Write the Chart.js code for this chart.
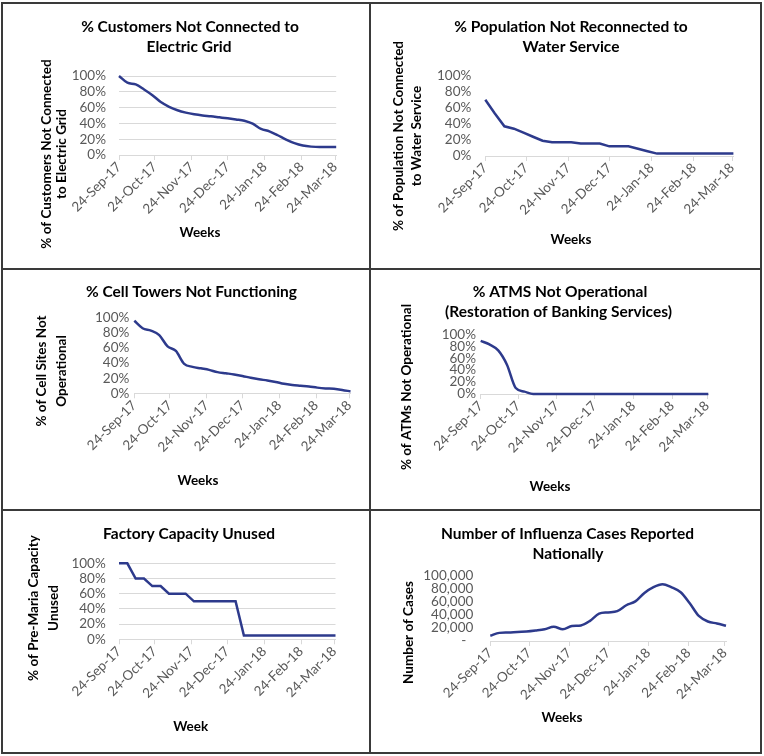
<!DOCTYPE html>
<html>
<head>
<meta charset="utf-8">
<script src="https://cdn.jsdelivr.net/npm/chart.js@4.4.0/dist/chart.umd.min.js"></script>
<style>
html,body{margin:0;padding:0;background:#fff;}
#wrap{position:relative;width:764px;height:756px;overflow:hidden;background:#fff;}
canvas{position:absolute;}
.ln{position:absolute;background:#3a3a3a;}
</style>
</head>
<body>
<div id="wrap">
<canvas id="c1"></canvas>
<canvas id="c2"></canvas>
<canvas id="c3"></canvas>
<canvas id="c4"></canvas>
<canvas id="c5"></canvas>
<canvas id="c6"></canvas>
<div class="ln" style="left:1px;top:2px;width:761px;height:2px"></div>
<div class="ln" style="left:1px;top:752px;width:761px;height:2px"></div>
<div class="ln" style="left:1px;top:2px;width:2px;height:752px"></div>
<div class="ln" style="left:760px;top:2px;width:2px;height:752px"></div>
<div class="ln" style="left:369px;top:2px;width:2px;height:752px"></div>
<div class="ln" style="left:1px;top:268px;width:761px;height:2px"></div>
<div class="ln" style="left:1px;top:509px;width:761px;height:2px"></div>
</div>
<script>
// ---- data ----
const tickLabels = ['24-Sep-17','24-Oct-17','24-Nov-17','24-Dec-17','24-Jan-18','24-Feb-18','24-Mar-18'];
const tickDays = [0, 30, 61, 91, 122, 153, 181];
const weekDays = [0,7,14,21,28,35,42,49,56,63,70,77,84,91,98,105,112,119,126,133,140,147,154,161,168,175,182];
const percentTicks = [0, 20, 40, 60, 80, 100];
const caseTicks = [0, 20000, 40000, 60000, 80000, 100000];

const electricGrid = [100, 91.5, 89.4, 83, 75.7, 67, 61, 56.6, 53.6, 51.5, 50, 49, 47.7, 46.4, 45, 43.4, 39.6, 33, 30, 25, 19.5, 15, 12, 10.6, 10, 10, 10];
const waterService = [70, 53, 37, 34, 29, 24, 19, 17, 17, 17, 15.5, 15.5, 15.5, 12, 12, 12, 9, 6, 3, 3, 3, 3, 3, 3, 3, 3, 3];
const cellSites = [96, 86, 83, 77, 62, 56, 39, 35, 33, 31, 28, 26.5, 25, 23, 20.5, 18.5, 17, 15, 12.5, 11, 10, 9, 7.5, 6.5, 6, 4.5, 2.5];
const atms = [89, 83, 73, 49, 10, 4, 0, 0, 0, 0, 0, 0, 0, 0, 0, 0, 0, 0, 0, 0, 0, 0, 0, 0, 0, 0, 0];
const factory = [100, 100, 80, 80, 70, 70, 60, 60, 60, 50, 50, 50, 50, 50, 50, 5, 5, 5, 5, 5, 5, 5, 5, 5, 5, 5, 5];
const influenza = [8000, 12500, 13000, 14000, 14500, 16000, 18000, 22000, 18000, 23000, 24000, 31000, 42000, 44000, 46000, 55000, 61000, 74000, 83000, 87500, 82500, 75000, 58000, 38500, 30000, 27000, 23500];

// ---- style ----
const FONT = 'Lato, "Open Sans", sans-serif';
const LINE = '#2d3a8c';
const TICK = '#595959';
const AX = '#d9d9d9';
const TF = 'bold 15.5px ' + FONT;
const AF = 'bold 13.5px ' + FONT;
const TS = 13.5;
const V = -Math.PI / 2;

const TEXTS = {};
const panelText = {
  id: 'panelText',
  afterDraw(chart) {
    const d = TEXTS[chart.canvas.id];
    if (!d) return;
    const ctx = chart.ctx;
    d.items.forEach(it => {
      ctx.save();
      ctx.font = it.f;
      ctx.fillStyle = '#000';
      ctx.textAlign = 'center';
      ctx.textBaseline = 'middle';
      ctx.translate(it.x - d.ox, it.y - d.oy);
      if (it.r) ctx.rotate(it.r);
      ctx.fillText(it.t, 0, 0);
      ctx.restore();
    });
  }
};

const pctFmt = v => v + '%';
const caseFmt = v => v === 0 ? '-  ' : v.toLocaleString('en-US');

function build(p) {
  const cv = document.getElementById(p.id);
  cv.width = p.c.w; cv.height = p.c.h;
  cv.style.left = p.c.x + 'px'; cv.style.top = p.c.y + 'px';
  const yW = p.a.L - p.c.x;
  const xH = (p.c.y + p.c.h) - p.a.B;
  TEXTS[p.id] = {ox: p.c.x, oy: p.c.y, items: p.texts};
  new Chart(cv, {
    type: 'line',
    data: {
      datasets: [{
        data: p.values.map((v, i) => ({x: weekDays[i], y: v})),
        borderColor: LINE, borderWidth: 2.5, pointRadius: 0,
        tension: p.smooth ? 0.4 : 0,
        cubicInterpolationMode: p.smooth ? 'monotone' : 'default',
        clip: false, fill: false
      }]
    },
    options: {
      responsive: false, animation: false, devicePixelRatio: 1,
      events: [],
      layout: {padding: {left: 0, top: p.a.T - p.c.y, right: (p.c.x + p.c.w) - p.a.R, bottom: 0}},
      plugins: {legend: {display: false}, tooltip: {enabled: false}, title: {display: false}},
      scales: {
        x: {
          type: 'linear', min: 0, max: 182,
          afterBuildTicks: s => { s.ticks = tickDays.map(v => ({value: v})); },
          afterFit: s => { s.height = xH; },
          ticks: {autoSkip: false, maxRotation: 45, minRotation: 45, padding: -1, color: TICK,
                  font: {family: FONT, size: TS}, callback: (v, i) => tickLabels[i]},
          grid: {display: true, drawOnChartArea: false, drawTicks: true, tickLength: 5, color: AX},
          border: {display: true, color: AX, width: 1}
        },
        y: {
          min: 0, max: p.yMax,
          afterBuildTicks: s => { s.ticks = p.yTicks.map(v => ({value: v})); },
          afterFit: s => { s.width = yW; },
          ticks: {autoSkip: false, padding: p.yPad, color: TICK, font: {family: FONT, size: TS}, callback: p.fmt},
          grid: {display: p.grid, drawTicks: false, color: AX},
          border: {display: false}
        }
      }
    },
    plugins: [panelText]
  });
}

build({id: 'c1', c: {x: 3, y: 4, w: 366, h: 264}, a: {L: 119, R: 336.2, T: 76, B: 155},
  values: electricGrid, yMax: 100, yTicks: percentTicks, fmt: pctFmt, yPad: 13, grid: true, smooth: true,
  texts: [
    {t: '% Customers Not Connected to', x: 190, y: 27, f: TF},
    {t: 'Electric Grid', x: 189, y: 47, f: TF},
    {t: '% of Customers Not Connected', x: 47, y: 154, f: AF, r: V},
    {t: 'to Electric Grid', x: 62, y: 154, f: AF, r: V},
    {t: 'Weeks', x: 200, y: 233, f: AF}
  ]});

build({id: 'c2', c: {x: 371, y: 4, w: 389, h: 264}, a: {L: 485.3, R: 733.4, T: 75.7, B: 156},
  values: waterService, yMax: 100, yTicks: percentTicks, fmt: pctFmt, yPad: 14, grid: false, smooth: false,
  texts: [
    {t: '% Population Not Reconnected to', x: 571, y: 27, f: TF},
    {t: 'Water Service', x: 571, y: 47, f: TF},
    {t: '% of Population Not Connected', x: 398.7, y: 136, f: AF, r: V},
    {t: 'to Water Service', x: 417, y: 136, f: AF, r: V},
    {t: 'Weeks', x: 571, y: 240, f: AF}
  ]});

build({id: 'c3', c: {x: 3, y: 270, w: 366, h: 239}, a: {L: 134.3, R: 350.5, T: 317.7, B: 393.3},
  values: cellSites, yMax: 100, yTicks: percentTicks, fmt: pctFmt, yPad: 5, grid: false, smooth: true,
  texts: [
    {t: '% Cell Towers Not Functioning', x: 191.5, y: 291.7, f: TF},
    {t: '% of Cell Sites Not', x: 41.7, y: 371, f: AF, r: V},
    {t: 'Operational', x: 61.7, y: 371, f: AF, r: V},
    {t: 'Weeks', x: 198, y: 480.7, f: AF}
  ]});

build({id: 'c4', c: {x: 371, y: 270, w: 389, h: 239}, a: {L: 480.7, R: 708.3, T: 334.3, B: 394},
  values: atms, yMax: 100, yTicks: percentTicks, fmt: pctFmt, yPad: 4.7, grid: false, smooth: true,
  texts: [
    {t: '% ATMS Not Operational', x: 560, y: 291.7, f: TF},
    {t: '(Restoration of Banking Services)', x: 558.5, y: 311.7, f: TF},
    {t: '% of ATMs Not Operational', x: 407, y: 387, f: AF, r: V},
    {t: 'Weeks', x: 550, y: 487, f: AF}
  ]});

build({id: 'c5', c: {x: 3, y: 511, w: 366, h: 241}, a: {L: 119, R: 335.5, T: 563.3, B: 639.3},
  values: factory, yMax: 100, yTicks: percentTicks, fmt: pctFmt, yPad: 13.3, grid: true, smooth: false,
  texts: [
    {t: 'Factory Capacity Unused', x: 189, y: 534.3, f: TF},
    {t: '% of Pre-Maria Capacity', x: 33.3, y: 608, f: AF, r: V},
    {t: 'Unused', x: 53.3, y: 608, f: AF, r: V},
    {t: 'Week', x: 190.7, y: 726.7, f: AF}
  ]});

build({id: 'c6', c: {x: 371, y: 511, w: 389, h: 241}, a: {L: 490.3, R: 726, T: 576, B: 641},
  values: influenza, yMax: 100000, yTicks: caseTicks, fmt: caseFmt, yPad: 17, grid: false, smooth: true,
  texts: [
    {t: 'Number of Influenza Cases Reported', x: 567.5, y: 534.3, f: TF},
    {t: 'Nationally', x: 568, y: 554.3, f: TF},
    {t: 'Number of Cases', x: 408.7, y: 632.5, f: AF, r: V},
    {t: 'Weeks', x: 562, y: 717.7, f: AF}
  ]});
</script>
</body>
</html>
